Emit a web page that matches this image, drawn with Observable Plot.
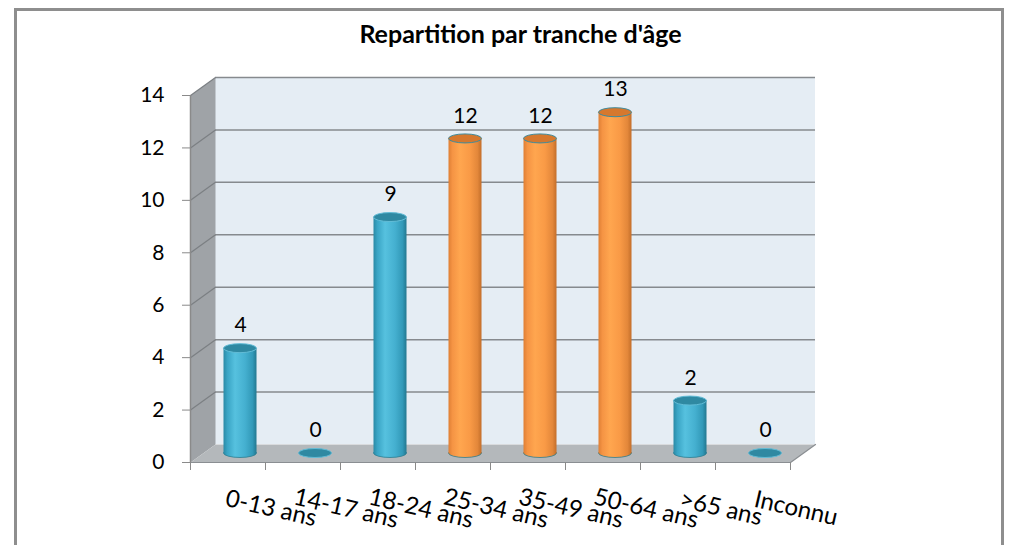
<!DOCTYPE html>
<html><head><meta charset="utf-8">
<script src="https://cdn.jsdelivr.net/npm/d3@7"></script>
<script src="https://cdn.jsdelivr.net/npm/@observablehq/plot@0.6"></script>
<style>
html,body{margin:0;padding:0;background:#fff;width:1014px;height:545px;overflow:hidden;position:relative;}
#frame{position:absolute;left:14px;top:8px;width:990px;height:560px;border:3px solid #8e8e8e;box-sizing:border-box;pointer-events:none;}
#title{position:absolute;left:0;top:18px;width:1041px;text-align:center;font:bold 25px Lato, sans-serif;color:#000;}
#chart{position:absolute;left:0;top:50px;}
</style></head><body>
<div id="title">Repartition par tranche d'âge</div>
<div id="chart"></div>
<div id="frame"></div>
<script>
const categories = ["0-13 ans","14-17 ans","18-24 ans","25-34 ans","35-49 ans","50-64 ans",">65 ans","Inconnu"];
const values = [4,0,9,12,12,13,2,0];
const groups = ["bleu","bleu","bleu","orange","orange","orange","bleu","bleu"];
const yTicks = [0,2,4,6,8,10,12,14];

const W = 1014, H = 495;
const mL = 190, mR = 224, mT = 45, mB = 83;
const N = categories.length, yMax = 14;
const xUnit = (W - mL - mR) / N, yUnit = (H - mT - mB) / yMax;
const depthX = 25, depthY = 18;             // 3D depth in px
const DXu = depthX / xUnit, DYu = depthY / yUnit;
const halfW = 16.5 / xUnit, capR = 4.5;
const midDx = depthX / 2, midDy = -depthY / 2;

const rows = categories.map((c, i) => ({c, i, v: values[i], g: groups[i]}));

const sidePts = [{x:0,y:0},{x:0,y:yMax},{x:DXu,y:yMax+DYu},{x:DXu,y:DYu}];
const floorPts = [{x:0,y:0},{x:N,y:0},{x:N+DXu,y:DYu},{x:DXu,y:DYu}];

const capColor = {bleu:"#2f89a2", orange:"#d6782e"};
const capStroke = {bleu:"#62bcd6", orange:"#3f8b9c"};

function cylinders(g) {
  const d = rows.filter(r => r.g === g);
  const pos = d.filter(r => r.v > 0);
  const common = {x1: r => r.i + 0.5 - halfW, x2: r => r.i + 0.5 + halfW, dx: midDx, dy: midDy};
  return [
    Plot.rect(pos, {...common, y1: 0, y2: 0, insetTop: -capR, insetBottom: -capR, rx: 16.5, ry: capR,
      fill: `url(#grad-${g})`, stroke: "#2d7d90", strokeWidth: 0.8}),
    Plot.rect(pos, {...common, y1: 0, y2: "v", fill: `url(#grad-${g})`}),
    Plot.rect(d, {...common, y1: "v", y2: "v", insetTop: -capR, insetBottom: -capR, rx: 16.5, ry: capR,
      fill: capColor[g], stroke: capStroke[g], strokeWidth: 1})
  ];
}

const plot = Plot.plot({
  width: W, height: H,
  marginLeft: mL, marginRight: mR, marginTop: mT, marginBottom: mB,
  style: {fontFamily: "Lato, sans-serif", background: "transparent", color: "#000"},
  x: {domain: [0, N]},
  y: {domain: [0, yMax]},
  marks: [
    Plot.rect([{}], {x1: DXu, x2: N + DXu, y1: DYu, y2: yMax + DYu, fill: "#e5edf4"}),
    Plot.line(sidePts, {x: "x", y: "y", fill: "#9fa3a7", stroke: "none"}),
    Plot.line(floorPts, {x: "x", y: "y", fill: "#b4b8bb", stroke: "none"}),
    Plot.ruleY(yTicks.filter(t => t > 0), {y: t => t + DYu, x1: DXu, x2: N + DXu, stroke: "#868a8e", strokeWidth: 1.5}),
    Plot.link(yTicks.filter(t => t > 0), {x1: 0, y1: t => t, x2: DXu, y2: t => t + DYu, stroke: "#7b7f83", strokeWidth: 1.2}),
    Plot.line([floorPts[0], floorPts[1], floorPts[2]], {x: "x", y: "y", stroke: "#8a8e92", strokeWidth: 1.2}),
    Plot.ruleX([0], {y1: 0, y2: yMax, stroke: "#8a8a8a", strokeWidth: 1.5}),
    Plot.axisY({ticks: yTicks, tickSize: 8, tickPadding: 18, fontSize: 21, stroke: "#8a8a8a", fill: "#000", label: null}),
    Plot.axisX({ticks: d3.range(0, N + 1), tickSize: 8, tickFormat: () => "", stroke: "#8a8a8a", label: null}),
    Plot.axisX({ticks: d3.range(N).map(i => i + 0.5), tickFormat: d => categories[Math.floor(d)],
      tickSize: 0, tickPadding: 46, tickRotate: 13, dx: 43, textAnchor: "middle", lineAnchor: "middle",
      fontSize: 24, fill: "#000", label: null}),
    ...cylinders("bleu"),
    ...cylinders("orange"),
    Plot.text(rows, {x: r => r.i + 0.5, y: "v", text: r => String(r.v), dx: midDx, dy: midDy - 23, fontSize: 21, fill: "#000"})
  ]
});

const defs = d3.select(plot).insert("defs", ":first-child");
const grads = {
  bleu: [["0%","#2a8aa6"],["12%","#3aa5c5"],["35%","#56c1df"],["65%","#45b0d0"],["88%","#3299b8"],["100%","#237890"]],
  orange: [["0%","#df7f34"],["12%","#f59444"],["35%","#ffa64f"],["65%","#f99a46"],["88%","#e3873a"],["100%","#c36e2a"]]
};
for (const [k, stops] of Object.entries(grads)) {
  const lg = defs.append("linearGradient").attr("id", `grad-${k}`).attr("x1", "0").attr("x2", "1").attr("y1", "0").attr("y2", "0");
  for (const [o, c] of stops) lg.append("stop").attr("offset", o).attr("stop-color", c);
}
document.getElementById("chart").appendChild(plot);
</script>
</body></html>
